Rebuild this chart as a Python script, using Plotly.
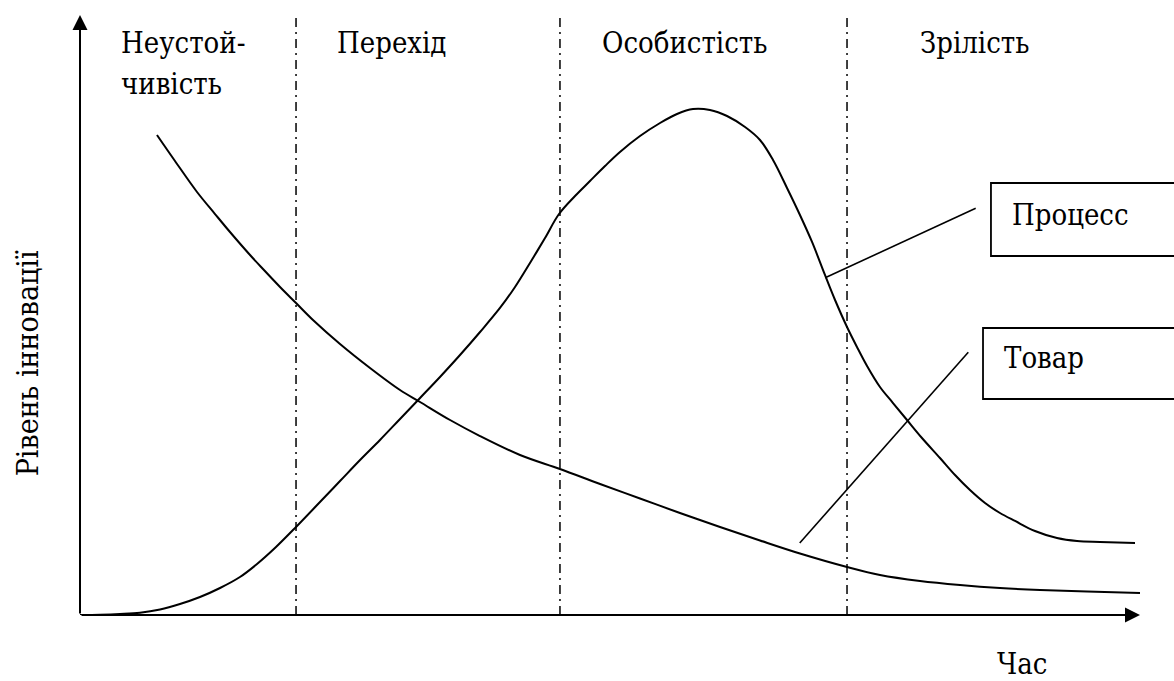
import plotly.graph_objects as go

# ---- data (time units 0..100, innovation level units 0..100) ----
process_x = [0, 1.89, 3.77, 5.66, 7.55, 9.43, 11.32, 13.21, 15.09, 16.70, 18.49, 20.38, 22.64, 24.53,
             26.42, 28.30, 30.19, 32.08, 33.96, 35.85, 37.74, 39.62, 41.04, 42.45, 43.87, 45.19, 46.70,
             48.11, 49.53, 50.94, 52.83, 54.72, 56.32, 57.83, 59.43, 61.04, 62.74, 64.15, 65.38, 66.70,
             67.92, 69.06, 70.28, 71.23, 72.36, 73.30, 74.25, 75.47, 76.70, 78.02, 79.43, 81.13, 82.55,
             83.96, 85.38, 86.79, 88.21, 90.09, 92.17, 94.06, 96.23, 99.53]
process_y = [0, 0.05, 0.17, 0.38, 0.92, 1.83, 3.0, 4.5, 6.33, 8.5, 11.33, 14.67, 18.83, 22.33,
             25.83, 29.17, 32.67, 36.17, 39.67, 43.33, 47.17, 51.17, 54.67, 58.67, 62.83, 66.83, 69.83,
             72.33, 74.83, 77.17, 79.83, 82.0, 83.5, 84.33, 84.17, 83.17, 81.33, 79.17, 75.83, 71.17,
             66.67, 62.17, 56.67, 52.5, 48.0, 44.67, 41.5, 38.0, 35.33, 32.5, 29.5, 26.17, 23.33,
             20.83, 18.67, 17.0, 15.67, 14.0, 12.83, 12.33, 12.17, 12.0]

product_x = [7.26, 8.96, 11.04, 12.74, 14.15, 16.04, 17.26, 18.87, 20.38, 21.98, 24.53, 27.36, 30.19,
             32.08, 34.91, 37.74, 41.51, 45.28, 49.06, 52.83, 56.60, 60.38, 64.15, 67.92, 72.36, 75.47,
             79.25, 83.02, 86.79, 90.57, 95.0, 100.0]
product_y = [80.0, 75.67, 70.5, 66.83, 63.83, 60.0, 57.67, 54.67, 52.0, 49.17, 45.17, 41.17, 37.5,
             35.5, 32.5, 29.83, 26.67, 24.33, 21.83, 19.42, 17.0, 14.67, 12.42, 10.25, 8.0, 6.67,
             5.67, 5.0, 4.5, 4.17, 3.92, 3.67]

phase_bounds = [20.38, 45.28, 72.36]
phase_labels = ["Неустой-", "Перехід", "Особистість", "Зрілість"]
phase_label2 = "чивість"
phase_label_x = [3.7, 24.1, 49.1, 79.1]

series_names = ["Процесс", "Товар"]
y_title = "Рівень інновації"
x_title = "Час"

X_MAX = 1094 / 10.6   # visible x range
Y_MAX = 102.5         # visible y range

fs = 29
FAM = "DejaVu Serif Condensed, DejaVu Serif, serif"
tfont = dict(family=FAM, size=fs, color="black")

fig = go.Figure()
for xs, ys in [(process_x, process_y), (product_x, product_y)]:
    fig.add_trace(go.Scatter(x=xs, y=ys, mode="lines",
                             line=dict(color="black", width=2, shape="spline", smoothing=1.0),
                             hoverinfo="skip", showlegend=False))

shapes = []
for xb in phase_bounds:
    shapes.append(dict(type="line", xref="x", yref="y", x0=xb, x1=xb, y0=0, y1=100,
                       line=dict(color="black", width=1.5, dash="9px,5px,2px,5px")))
# boxes for the curve labels
shapes.append(dict(type="rect", xref="x", yref="y", x0=85.94, x1=110, y0=59.83, y1=72.0,
                   line=dict(color="black", width=1.8)))
shapes.append(dict(type="rect", xref="x", yref="y", x0=85.19, x1=110, y0=36.0, y1=47.83,
                   line=dict(color="black", width=1.8)))
# leader lines
shapes.append(dict(type="line", xref="x", yref="y", x0=70.3, y0=56.2, x1=84.5, y1=67.8,
                   line=dict(color="black", width=1.6)))
shapes.append(dict(type="line", xref="x", yref="y", x0=67.9, y0=12.0, x1=83.8, y1=43.8,
                   line=dict(color="black", width=1.6)))

ann = []
# axes with arrow heads
ann.append(dict(x=100, y=0, ax=0, ay=0, xref="x", yref="y", axref="x", ayref="y", text="",
                showarrow=True, arrowhead=2, arrowsize=1.5, arrowwidth=2, arrowcolor="black"))
ann.append(dict(x=0, y=100, ax=0, ay=0, xref="x", yref="y", axref="x", ayref="y", text="",
                showarrow=True, arrowhead=2, arrowsize=1.5, arrowwidth=2, arrowcolor="black"))
for lbl, lx in zip(phase_labels, phase_label_x):
    ann.append(dict(x=lx, y=95.3, xref="x", yref="y", text=lbl, showarrow=False,
                    xanchor="left", yanchor="middle", font=tfont))
ann.append(dict(x=phase_label_x[0], y=88.45, xref="x", yref="y", text=phase_label2, showarrow=False,
                xanchor="left", yanchor="middle", font=tfont))
ann.append(dict(x=87.7, y=66.6, xref="x", yref="y", text=series_names[0], showarrow=False,
                xanchor="left", yanchor="middle", font=tfont))
ann.append(dict(x=87.0, y=42.8, xref="x", yref="y", text=series_names[1], showarrow=False,
                xanchor="left", yanchor="middle", font=tfont))
ann.append(dict(x=-4.97 / X_MAX, y=42.0 / Y_MAX, xref="paper", yref="paper", text=y_title,
                showarrow=False, textangle=-90, xanchor="center", yanchor="middle",
                font=dict(family=FAM, size=30, color="black")))
ann.append(dict(x=86.3 / X_MAX, y=-8.17 / Y_MAX, xref="paper", yref="paper", text=x_title,
                showarrow=False, xanchor="left", yanchor="middle", font=tfont))

fig.update_layout(
    width=1174, height=681,
    margin=dict(l=80, r=0, t=0, b=66),
    paper_bgcolor="white", plot_bgcolor="white",
    font=dict(family="DejaVu Serif, serif"),
    xaxis=dict(range=[0, X_MAX], visible=False, fixedrange=True),
    yaxis=dict(range=[0, Y_MAX], visible=False, fixedrange=True),
    shapes=shapes, annotations=ann, showlegend=False,
)

fig.write_html("out.html", config={"displayModeBar": False},
               post_script="document.body.style.margin='0px';")
